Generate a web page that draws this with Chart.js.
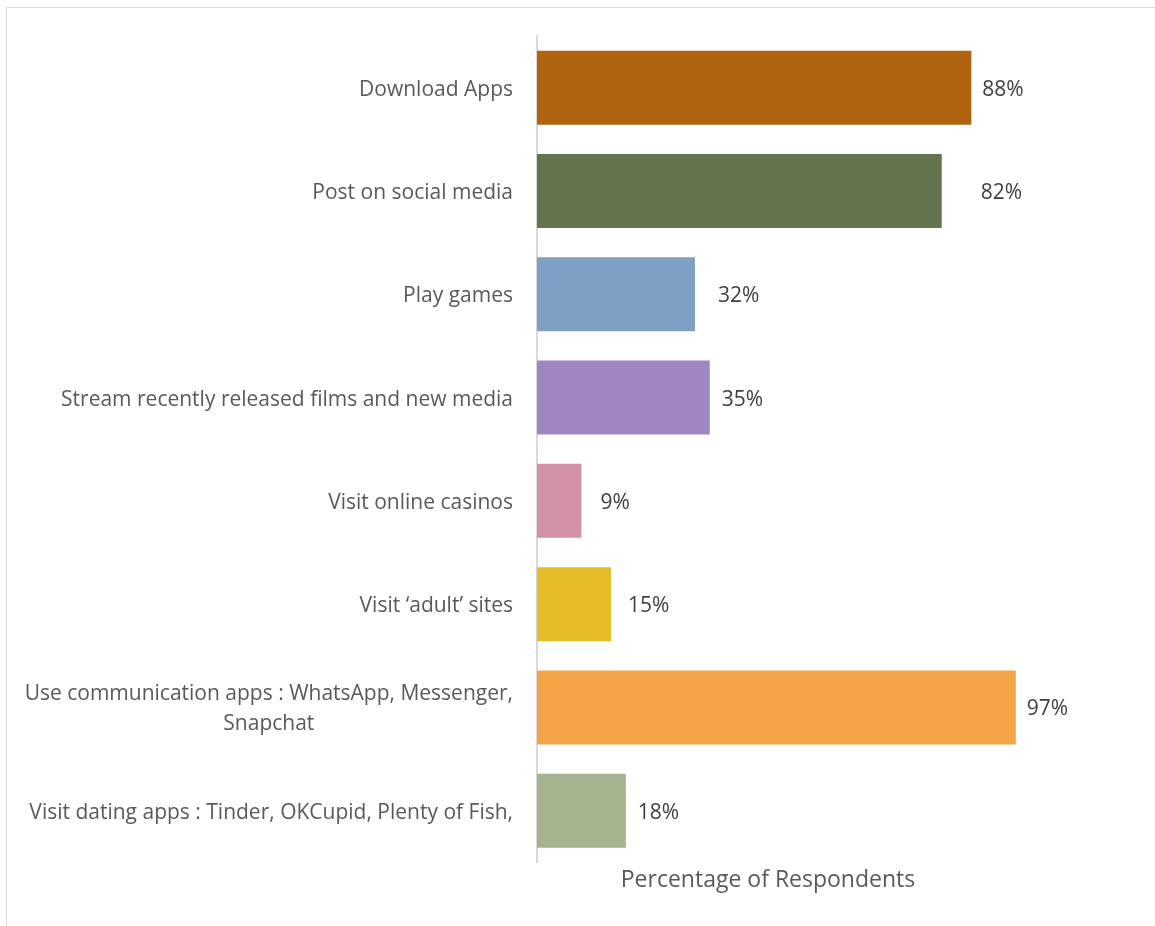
<!DOCTYPE html>
<html>
<head>
<meta charset="utf-8">
<script src="https://cdn.jsdelivr.net/npm/chart.js@4"></script>
<style>
  body { margin: 0; background: #fff; }
  #wrap { position: relative; width: 1155px; height: 926px; }
  #frame { position: absolute; left: 6px; top: 7px; right: 0; bottom: 0;
           border-top: 1.5px solid #dcdcdc; border-left: 1.5px solid #dcdcdc; }
  canvas { position: absolute; left: 0; top: 0; }
</style>
</head>
<body>
<div id="wrap">
  <div id="frame"></div>
  <canvas id="grafico" width="1155" height="926"></canvas>
</div>
<script>
// categorias (linhas do eixo y)
const categorias = [
  ['Download Apps'],
  ['Post on social media'],
  ['Play games'],
  ['Stream recently released films and new media'],
  ['Visit online casinos'],
  ['Visit \u2018adult\u2019 sites'],
  ['Use communication apps : WhatsApp, Messenger,', 'Snapchat'],
  ['Visit dating apps : Tinder, OKCupid, Plenty of Fish,']
];
// percentagem de respondentes
const valores = [88, 82, 32, 35, 9, 15, 97, 18];
const rotulos = valores.map(v => v + '%');
const cores = ['#b1640f', '#64744e', '#7f9fc4', '#9e86c2', '#d291a6', '#e5bb29', '#f2a446', '#a5b38f'];
const tituloX = 'Percentage of Respondents';

const FONTE = '"Open Sans", sans-serif';
// distancia do rotulo ao fim da barra (px)
const afastamento = [11, 39, 23, 12, 19, 17, 11, 12];

const pluginRotulos = {
  id: 'rotulos',
  afterDatasetsDraw(chart) {
    const ctx = chart.ctx;
    const meta = chart.getDatasetMeta(0);
    const area = chart.chartArea;
    ctx.save();
    ctx.textBaseline = 'middle';
    // nomes das categorias
    ctx.font = '21px ' + FONTE;
    ctx.fillStyle = '#595959';
    const lh = 30;
    categorias.forEach((linhas, i) => {
      const y = meta.data[i].y + 2;
      const largura = Math.max(...linhas.map(t => ctx.measureText(t).width));
      const cx = area.left - 24 - largura / 2;
      const y0 = y - (linhas.length - 1) * lh / 2;
      ctx.textAlign = 'center';
      linhas.forEach((t, k) => ctx.fillText(t, cx, y0 + k * lh));
    });
    // valores
    ctx.fillStyle = '#404040';
    ctx.textAlign = 'left';
    meta.data.forEach((bar, i) => {
      ctx.fillText(rotulos[i], bar.x + afastamento[i], bar.y + 2);
    });
    ctx.restore();
  }
};

new Chart(document.getElementById('grafico'), {
  type: 'bar',
  data: {
    labels: categorias,
    datasets: [{
      data: valores,
      backgroundColor: cores,
      borderWidth: 0,
      barPercentage: 0.716,
      categoryPercentage: 1,
      clip: false
    }]
  },
  options: {
    indexAxis: 'y',
    responsive: false,
    animation: false,
    layout: { padding: { top: 36, right: 156, left: 0, bottom: 0 } },
    plugins: { legend: { display: false }, tooltip: { enabled: false } },
    scales: {
      x: {
        min: 0,
        max: 93.6,
        grid: { display: false, drawTicks: false },
        border: { display: false },
        ticks: { display: false },
        title: {
          display: true,
          text: tituloX,
          color: '#595959',
          font: { family: FONTE, size: 23 },
          padding: { top: 4, bottom: 32 }
        }
      },
      y: {
        grid: { display: false, drawTicks: false },
        border: { color: '#d9d9d9', width: 2 },
        ticks: { display: false },
        afterFit(scale) { scale.width = 537; }
      }
    }
  },
  plugins: [pluginRotulos]
});
</script>
</body>
</html>
